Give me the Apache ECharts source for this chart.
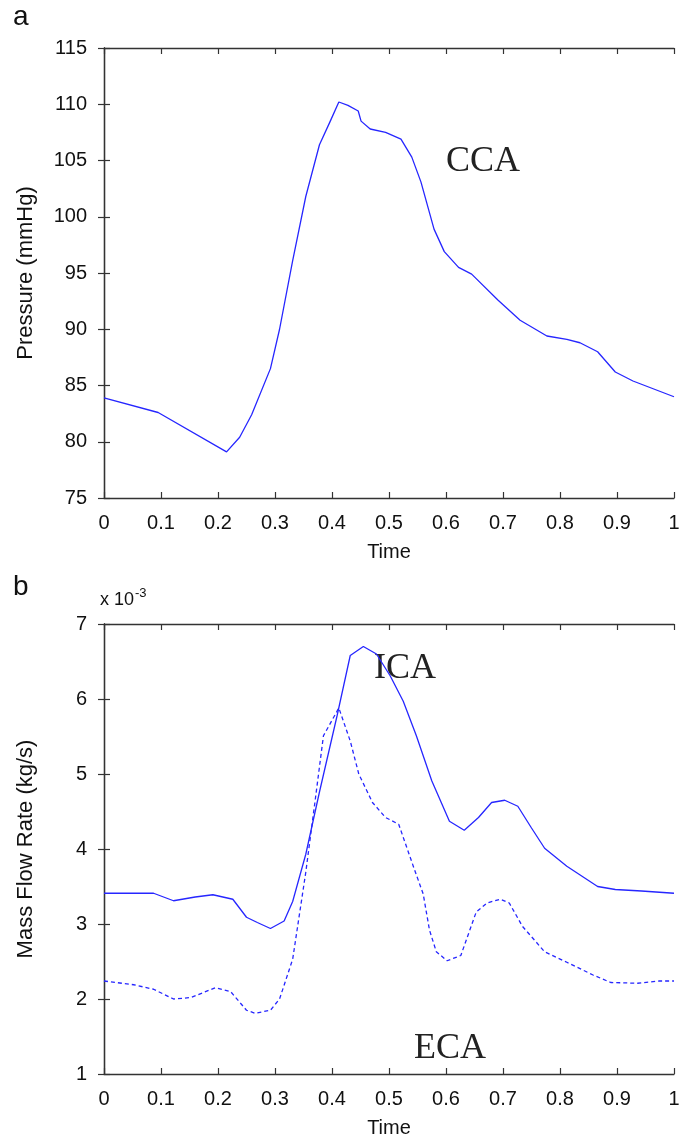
<!DOCTYPE html>
<html><head><meta charset="utf-8">
<script src="https://cdn.jsdelivr.net/npm/echarts@6/dist/echarts.min.js"></script>
<style>html,body{margin:0;padding:0;background:#fff}#c{width:694px;height:1141px}</style>
</head><body><div id="c"></div>
<script>
// Panel a: CCA pressure (mmHg) vs time
const ccaTime = [0,0.095,0.215,0.238,0.259,0.292,0.308,0.331,0.354,0.378,0.397,0.412,0.428,0.446,0.451,0.467,0.494,0.521,0.540,0.556,0.579,0.597,0.622,0.645,0.691,0.730,0.777,0.812,0.835,0.866,0.897,0.928,1];
const ccaPressure = [83.9,82.6,79.1,80.4,82.4,86.5,90.0,96.1,101.8,106.4,108.5,110.2,109.9,109.4,108.5,107.8,107.5,106.9,105.3,103.1,98.9,96.9,95.5,94.9,92.6,90.8,89.4,89.1,88.8,88.0,86.2,85.4,84.0];
// Panel b: mass flow rate (x 10^-3 kg/s)
const icaTime = [0,0.087,0.122,0.160,0.191,0.226,0.250,0.269,0.292,0.316,0.331,0.354,0.378,0.409,0.432,0.455,0.478,0.502,0.525,0.548,0.575,0.606,0.632,0.657,0.680,0.703,0.726,0.750,0.773,0.812,0.866,0.897,0.943,1];
const icaFlow = [3.41,3.41,3.31,3.36,3.39,3.33,3.09,3.02,2.94,3.04,3.30,3.93,4.76,5.78,6.58,6.70,6.60,6.31,5.97,5.51,4.91,4.37,4.25,4.42,4.62,4.65,4.57,4.28,4.01,3.77,3.50,3.46,3.44,3.41];
const ecaTime = [0,0.052,0.087,0.122,0.153,0.195,0.222,0.250,0.265,0.292,0.308,0.331,0.354,0.370,0.385,0.401,0.412,0.432,0.447,0.471,0.494,0.517,0.544,0.560,0.571,0.583,0.602,0.626,0.653,0.672,0.695,0.711,0.734,0.773,0.812,0.858,0.889,0.936,0.974,1];
const ecaFlow = [2.24,2.19,2.13,2.00,2.02,2.15,2.10,1.85,1.81,1.85,2.00,2.53,3.69,4.62,5.51,5.73,5.88,5.44,5.00,4.62,4.42,4.33,3.74,3.40,2.92,2.63,2.51,2.58,3.16,3.28,3.33,3.28,2.97,2.63,2.49,2.32,2.22,2.21,2.24,2.24];
const xTicks = {min:0,max:1,interval:0.1};
const pressureTicks = {min:75,max:115,interval:5};
const flowTicks = {min:1,max:7,interval:1};

const pair = (xs, ys) => xs.map((x,i)=>[x, ys[i]]);
const lineColor = '#2626ff';
const axisColor = '#333';
const font = 'Liberation Sans, Arial, sans-serif';
const serif = 'Liberation Serif, Times New Roman, serif';
const tick = {show:true, inside:true, length:6, lineStyle:{color:axisColor, width:1.2}};
const axLine = {show:true, lineStyle:{color:axisColor, width:1.3}};
const lbl = {color:'#111', fontSize:20, fontFamily:font};
const nameStyle = {color:'#111', fontSize:20, fontFamily:font};
const yNameStyle = {color:'#111', fontSize:22, fontFamily:font};

function xAxes(gi){
  return [
    {type:'value', gridIndex:gi, ...xTicks, position:'bottom', axisLine:axLine, axisTick:tick, splitLine:{show:false},
     axisLabel:{...lbl, margin:15}, name:'Time', nameLocation:'middle', nameGap:44, nameTextStyle:nameStyle},
    {type:'value', gridIndex:gi, ...xTicks, position:'top', axisLine:axLine, axisTick:tick, splitLine:{show:false}, axisLabel:{show:false}}
  ];
}
function yAxes(gi, t, name){
  return [
    {type:'value', gridIndex:gi, ...t, position:'left', axisLine:axLine, axisTick:tick, splitLine:{show:false},
     axisLabel:{...lbl, margin:17}, name:name, nameLocation:'middle', nameGap:67, nameTextStyle:yNameStyle},
    {type:'value', gridIndex:gi, ...t, position:'right', axisLine:axLine, axisTick:tick, splitLine:{show:false}, axisLabel:{show:false}}
  ];
}

const chart = echarts.init(document.getElementById('c'), null, {renderer:'canvas'});
chart.setOption({
  animation:false,
  backgroundColor:'#fff',
  grid:[
    {left:104, right:20, top:48, height:450},
    {left:104, right:20, top:624, height:450}
  ],
  xAxis:[...xAxes(0), ...xAxes(1)],
  yAxis:[...yAxes(0, pressureTicks, 'Pressure (mmHg)'), ...yAxes(1, flowTicks, 'Mass Flow Rate (kg/s)')],
  series:[
    {name:'CCA', type:'line', xAxisIndex:0, yAxisIndex:0, data:pair(ccaTime, ccaPressure), showSymbol:false,
     lineStyle:{color:lineColor, width:1.3}},
    {name:'ICA', type:'line', xAxisIndex:2, yAxisIndex:2, data:pair(icaTime, icaFlow), showSymbol:false,
     lineStyle:{color:lineColor, width:1.3}},
    {name:'ECA', type:'line', xAxisIndex:2, yAxisIndex:2, data:pair(ecaTime, ecaFlow), showSymbol:false,
     lineStyle:{color:lineColor, width:1.3, type:[4,3]}}
  ],
  graphic:[
    {type:'text', left:13, top:3, style:{text:'a', fontSize:28, fontFamily:font, fill:'#111'}},
    {type:'text', left:13, top:573, style:{text:'b', fontSize:28, fontFamily:font, fill:'#111'}},
    {type:'text', left:100, top:587, style:{text:'{n|x 10}{s|-3}', fontFamily:font, fill:'#111',
      rich:{n:{fontSize:18, fontFamily:font, fill:'#111', verticalAlign:'bottom', lineHeight:22},
            s:{fontSize:13, fontFamily:font, fill:'#111', verticalAlign:'top', lineHeight:22, padding:[0,0,10,1]}}}},
    {type:'text', left:446, top:144, style:{text:'CCA', fontSize:36, fontFamily:serif, fill:'#222'}},
    {type:'text', left:374, top:651, style:{text:'ICA', fontSize:36, fontFamily:serif, fill:'#222'}},
    {type:'text', left:414, top:1031, style:{text:'ECA', fontSize:36, fontFamily:serif, fill:'#222'}}
  ]
});
</script></body></html>
